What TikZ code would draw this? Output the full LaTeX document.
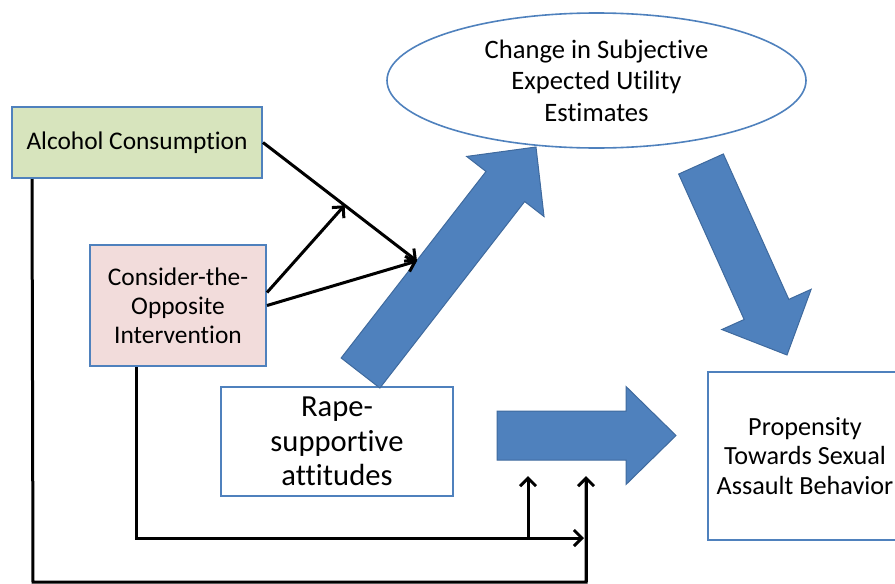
\documentclass[tikz,border=0pt]{standalone}
\usepackage{fontspec}
\setmainfont{Carlito}[Ligatures=NoCommon]
\usetikzlibrary{calc,arrows.meta,shapes.geometric}

\definecolor{officeblue}{HTML}{4F81BD}
\definecolor{officeline}{HTML}{3F6A9E}
\definecolor{alcgreen}{HTML}{D7E4BD}
\definecolor{conspink}{HTML}{F2DCDB}

% fat block arrow from #1 (middle of the tail) to #2 (tip)
\newcommand{\blockarrow}[2]{%
  \coordinate (hb) at ($(#2)!25pt!(#1)$);
  \path[bigarrow] ($(#1)!12.25pt!90:(#2)$) -- ($(hb)!12.25pt!90:(#2)$)
    -- ($(hb)!24.5pt!90:(#2)$) -- (#2) -- ($(hb)!24.5pt!-90:(#2)$)
    -- ($(hb)!12.25pt!-90:(#2)$) -- ($(#1)!12.25pt!-90:(#2)$) -- cycle;}

\begin{document}
\begin{tikzpicture}[x=0.5pt,y=-0.5pt,
  box/.style={draw=officeblue,line width=1pt,rectangle,align=center,inner sep=0pt,
    font=\fontsize{12.7}{14.6}\selectfont},
  bubble/.style={draw=officeblue,line width=0.8pt,ellipse,align=center,inner sep=0pt,
    font=\fontsize{13.3}{15.7}\selectfont},
  bigarrow/.style={fill=officeblue,draw=officeline,line width=0.5pt,line join=miter},
  link/.style={line width=1.5pt,-{Straight Barb[length=4pt,width=8pt]}},
  plain/.style={line width=1.5pt}]
\useasboundingbox (0,0) rectangle (895,584);

\node[box,fill=alcgreen,minimum width=125pt,minimum height=35.5pt] (alc) at (137,142.5) {Alcohol Consumption};
\node[box,fill=conspink,minimum width=88pt,minimum height=60.5pt] (cons) at (178,305.5) {Consider-the-\\Opposite\\Intervention};
\node[box,minimum width=116pt,minimum height=54.5pt,font=\fontsize{15.3}{17.3}\selectfont] (rape) at (337,441.5) {Rape-\\supportive\\attitudes};
\node[box,minimum width=97pt,minimum height=84pt,font=\fontsize{13.1}{14.6}\selectfont] (prop) at (805,456) {Propensity\\Towards Sexual\\Assault Behavior};
\node[bubble,minimum width=209.5pt,minimum height=67.5pt] (seu) at (596.5,80.5) {Change in Subjective\\Expected Utility\\Estimates};

% big arrows
\coordinate (a1) at (360.5,373);
\coordinate (b1) at (536,147);
\coordinate (a2) at (701,164);
\coordinate (b2) at (787,355);
\coordinate (a3) at (497,435.5);
\coordinate (b3) at (676,435.5);
\blockarrow{a1}{b1}
\blockarrow{a2}{b2}
\blockarrow{a3}{b3}

% interaction arrows
\coordinate (m1) at (417,261);
\draw[link] (alc.east) -- (m1);
\draw[link] ([yshift=6.5pt]cons.east) -- ($(alc.east)!0.53!(m1)$);
\draw[link] (cons.east) -- (m1);

% lines along the bottom
\coordinate (up1) at (528,476);
\coordinate (up2) at (586,476);
\coordinate (h1) at (584,538);
\coordinate (low) at (33,582);
\draw[link] ([xshift=23.5pt]cons.south west) |- (h1);
\draw[link] (up1 |- h1) -- (up1);
\draw[plain] ([xshift=10.5pt]alc.south west) -- (low) -| ([yshift=-1pt]up2);
\draw[link] (up2 |- low) -- (up2);
\end{tikzpicture}
\end{document}
